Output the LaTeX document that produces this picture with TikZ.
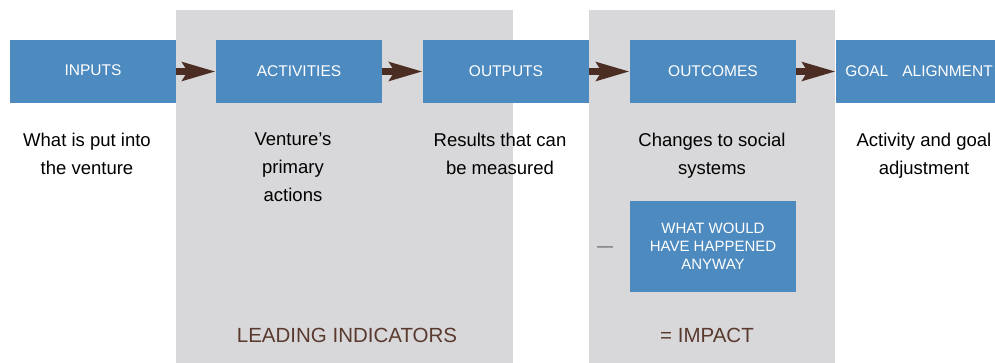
\documentclass[tikz,border=0pt]{standalone}
\usepackage{fontspec}
\setmainfont{Liberation Sans}
\usetikzlibrary{arrows.meta,positioning}
\definecolor{stageblue}{HTML}{4D8ABF}
\definecolor{panelgray}{HTML}{D8D8DA}
\definecolor{arrowbrown}{HTML}{4B2D23}
\definecolor{labelbrown}{HTML}{5A3A2F}
\tikzset{
  stage/.style={rectangle,fill=stageblue,text=white,inner sep=0pt,
    minimum width=166pt,minimum height=63pt,align=center,
    font=\fontsize{15.5}{18}\selectfont},
  note/.style={anchor=north,inner sep=0pt,align=center,text=black,
    font=\fontsize{18.5}{28}\selectfont},
  bigtag/.style={inner sep=0pt,text=labelbrown,font=\fontsize{20.5}{24}\selectfont},
  flow/.style={arrowbrown,line width=7pt,
    -{Stealth[length=33pt,width=18pt,inset=5pt]}}
}
\begin{document}
\begin{tikzpicture}[x=1pt,y=-1pt]
\useasboundingbox (0,0) rectangle (995,363);
\clip (0,0) rectangle (995,363);
% grey panels
\fill[panelgray] (176,10) rectangle (513,363);
\fill[panelgray] (589,10) rectangle (835,363);
% stages
\node[stage] (inputs) at (93,71.5) {\raisebox{3pt}{INPUTS}};
\node[stage] (activities) at (299,71.5) {ACTIVITIES};
\node[stage] (outputs) at (506,71.5) {OUTPUTS};
\node[stage] (outcomes) at (713,71.5) {OUTCOMES};
\node[stage] (goal) at (919,71.5) {GOAL\hspace{0.9em}ALIGNMENT};
\node[stage,minimum height=91pt,font=\fontsize{15}{18}\selectfont] (anyway) at (713,246.5)
  {WHAT WOULD\\HAVE HAPPENED\\ANYWAY};
% descriptions
\node[note] (inputs-txt) at (87,133) {What is put into\\the venture};
\node[note] (activities-txt) at (293,133) {Venture’s\\primary\\actions};
\node[note] (outputs-txt) at (500,133) {Results that can\\be measured};
\node[note] (outcomes-txt) at (712,133) {Changes to social\\systems};
\node[note] (goal-txt) at (924,133) {Activity and goal\\adjustment};
\node[inner sep=0pt,text=black!65,font=\fontsize{16}{18}\selectfont] (minus) at (605,249) {—};
\node[bigtag] (leading) at (347,335) {LEADING INDICATORS};
\node[bigtag] (impact) at (707,335) {= IMPACT};
% arrows
\path[flow]
(inputs) edge (activities)
(activities) edge (outputs)
(outputs) edge (outcomes)
(outcomes) edge (goal);
\end{tikzpicture}
\end{document}
